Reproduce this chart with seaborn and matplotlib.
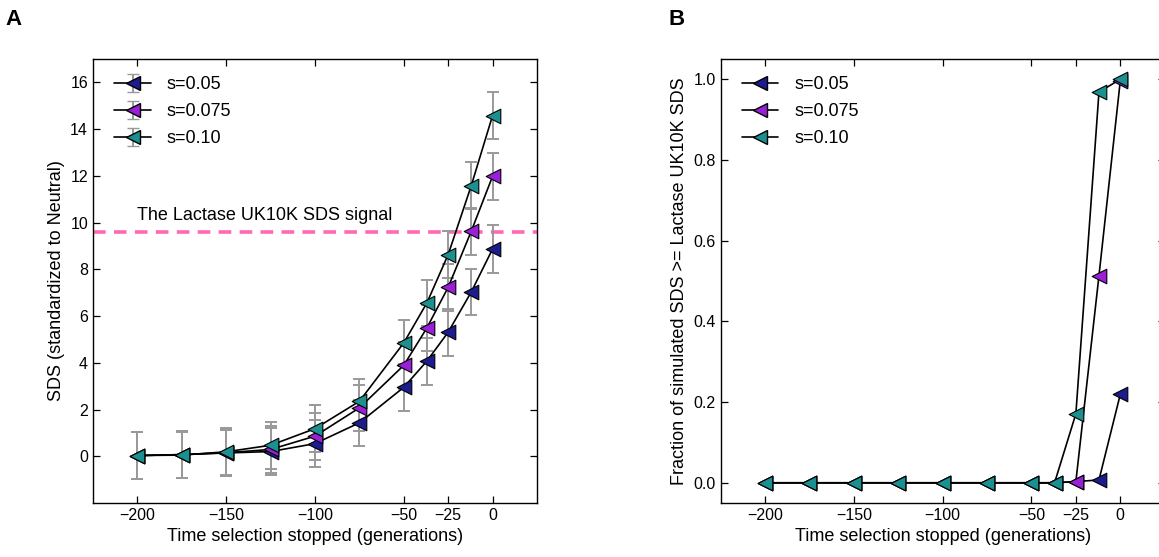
import numpy as np
import pandas as pd
import matplotlib
matplotlib.use("Agg")
import matplotlib.pyplot as plt
import seaborn as sns
from matplotlib.lines import Line2D

# ---------------- data ----------------
times = [-200, -175, -150, -125, -100, -75, -50, -37, -25, -12, 0]
series_names = ["s=0.05", "s=0.075", "s=0.10"]

sds_005 = [0.03, 0.07, 0.14, 0.20, 0.54, 1.43, 2.95, 4.07, 5.31, 7.03, 8.87]
sds_0075 = [0.03, 0.07, 0.15, 0.29, 0.86, 2.07, 3.89, 5.49, 7.23, 9.63, 11.98]
sds_010 = [0.03, 0.05, 0.19, 0.47, 1.18, 2.35, 4.85, 6.56, 8.63, 11.58, 14.58]

err_005 = [1.0, 1.0, 1.0, 1.0, 1.0, 0.98, 1.0, 1.0, 1.0, 1.0, 1.02]
err_0075 = [1.0, 1.0, 1.0, 1.0, 1.0, 0.98, 1.0, 1.0, 1.0, 1.0, 1.02]
err_010 = [1.0, 1.0, 1.0, 1.0, 1.0, 0.97, 1.0, 1.0, 1.0, 1.0, 1.01]

frac_005 = [0, 0, 0, 0, 0, 0, 0, 0, 0.003, 0.007, 0.219]
frac_0075 = [0, 0, 0, 0, 0, 0, 0, 0, 0.003, 0.513, 0.996]
frac_010 = [0, 0, 0, 0, 0, 0, 0, 0, 0.171, 0.968, 1.0]

signal_value = 9.6
signal_label = "The Lactase UK10K SDS signal"
xticks = [-200, -150, -100, -50, -25, 0]
yticks_a = [0, 2, 4, 6, 8, 10, 12, 14, 16]
yticks_b = [0.0, 0.2, 0.4, 0.6, 0.8, 1.0]

colors = ["#1c1c8e", "#9a1fd8", "#1b9090"]

# ---------------- style ----------------
sns.set_style("ticks")
plt.rcParams["font.family"] = ["Liberation Sans", "DejaVu Sans"]
plt.rcParams["xtick.direction"] = "in"
plt.rcParams["ytick.direction"] = "in"
plt.rcParams["xtick.top"] = True
plt.rcParams["ytick.right"] = True
for k in ["text.color", "axes.labelcolor", "xtick.color", "ytick.color",
          "xtick.labelcolor", "ytick.labelcolor"]:
    plt.rcParams[k] = "black"

fig = plt.figure(figsize=(11.59, 5.57), dpi=100)
axA = fig.add_axes([0.0802, 0.0970, 0.3831, 0.797])
axB = fig.add_axes([0.6218, 0.0970, 0.3831, 0.797])

sds_all = [sds_005, sds_0075, sds_010]
err_all = [err_005, err_0075, err_010]
frac_all = [frac_005, frac_0075, frac_010]

dfA = pd.concat([pd.DataFrame({"t": times, "v": v, "e": e, "s": n})
                 for v, e, n in zip(sds_all, err_all, series_names)], ignore_index=True)
dfB = pd.concat([pd.DataFrame({"t": times, "v": v, "s": n})
                 for v, n in zip(frac_all, series_names)], ignore_index=True)
pal = dict(zip(series_names, colors))
MS = 10.5
ECOL = "#999999"

def draw(ax, df, with_err):
    for i, n in enumerate(series_names):
        sub = df[df.s == n]
        if with_err:
            ax.errorbar(sub.t, sub.v, yerr=sub.e, fmt="none", ecolor=ECOL,
                        elinewidth=1.4, capsize=4, capthick=1.4, zorder=1 + i * 0.1)
        sns.lineplot(data=sub, x="t", y="v", color="black", lw=1.2, ax=ax,
                     legend=False, zorder=2 + i * 0.1, errorbar=None, sort=False)
    for i, n in enumerate(series_names):
        sub = df[df.s == n]
        sns.scatterplot(data=sub, x="t", y="v", color=pal[n], marker="<", s=MS ** 2,
                        edgecolor="black", linewidth=0.8, ax=ax, legend=False,
                        zorder=3 + i * 0.1)

draw(axA, dfA, True)
draw(axB, dfB, False)

axA.axhline(signal_value, color="#ff69b4", lw=2.6, ls=(0, (3.5, 2.3)), zorder=0.5)
axA.text(-200, signal_value + 0.35, signal_label, fontsize=13, ha="left", va="bottom")

for ax in (axA, axB):
    ax.set_xlim(-225, 25)
    ax.set_xticks(xticks)
    ax.set_xlabel("Time selection stopped (generations)", fontsize=13)
    ax.tick_params(labelsize=11.5, length=5, width=0.9, color="black")
    for sp in ax.spines.values():
        sp.set_linewidth(1.0)
        sp.set_color("black")

axA.set_ylim(-2, 17)
axA.set_yticks(yticks_a)
axA.set_ylabel("SDS (standardized to Neutral)", fontsize=13)
axB.set_ylim(-0.05, 1.05)
axB.set_yticks(yticks_b)
axB.set_yticklabels([f"{v:.1f}" for v in yticks_b])
axB.set_ylabel("Fraction of simulated SDS >= Lactase UK10K SDS", fontsize=13)

# legends
hA = []
hB = []
for n, c in zip(series_names, colors):
    eb = axA.errorbar([np.nan], [np.nan], yerr=[1], fmt="<-", color="black", lw=1.2,
                      mfc=c, mec="black", ms=MS, ecolor=ECOL, elinewidth=1.4,
                      capsize=4, label=n)
    hA.append(eb)
    hB.append(Line2D([], [], color="black", lw=1.2, marker="<", mfc=c, mec="black", ms=MS))
for ax, h in ((axA, hA), (axB, hB)):
    ax.legend(h, series_names, loc="upper left", frameon=False, fontsize=13,
              handlelength=2.0, handletextpad=0.9, labelspacing=0.55,
              borderaxespad=0.3, bbox_to_anchor=(0.02, 0.99))

fig.text(0.005, 0.965, "A", fontsize=16, fontweight="bold", ha="left", va="center")
fig.text(0.577, 0.965, "B", fontsize=16, fontweight="bold", ha="left", va="center")

fig.savefig("out.png", dpi=100)
